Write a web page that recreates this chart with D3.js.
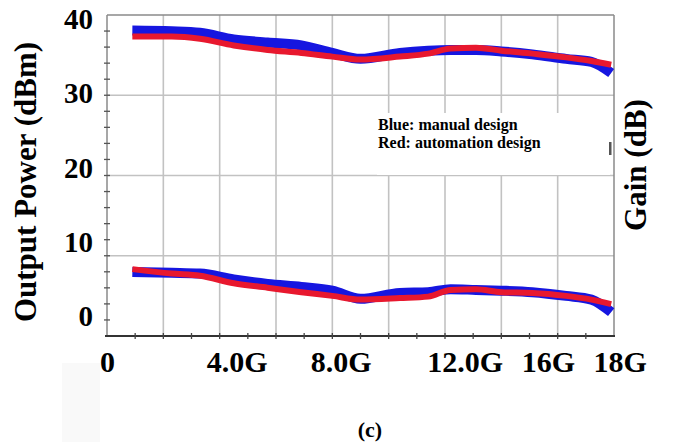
<!DOCTYPE html>
<html>
<head>
<meta charset="utf-8">
<script src="https://cdn.jsdelivr.net/npm/d3@7"></script>
<style>
  body { margin: 0; background: #fff; }
  svg { display: block; }
  text { font-family: "Liberation Serif", "Times New Roman", serif; font-weight: bold; fill: #000; }
</style>
</head>
<body>
<svg id="chart" width="673" height="442"></svg>
<script>
// Frequency sweep points (GHz)
const freqGHz = [0.9, 2.3, 3.3, 4.5, 5.7, 6.9, 8.0, 9.0, 10.4, 11.4, 12.2, 13.1, 14.0, 15.1, 16.3, 17.2, 17.9];
// Output power (dBm)
const powerManual = [38.4, 38.3, 38.1, 37.2, 36.8, 36.4, 35.4, 34.6, 35.4, 35.7, 35.8, 35.8, 35.6, 35.2, 34.6, 34.2, 32.7];
const powerAuto   = [37.6, 37.6, 37.3, 36.4, 35.8, 35.4, 34.9, 34.5, 34.9, 35.3, 36.0, 36.1, 35.7, 35.3, 34.8, 34.3, 33.8];
// Gain (dB)
const gainManual  = [5.9, 5.8, 5.7, 4.9, 4.3, 3.9, 3.4, 2.3, 3.1, 3.2, 3.6, 3.5, 3.4, 3.2, 2.7, 2.2, 0.5];
const gainAuto    = [6.3, 5.7, 5.4, 4.4, 3.8, 3.2, 2.7, 2.2, 2.4, 2.6, 3.5, 3.6, 3.2, 3.1, 2.7, 2.2, 1.6];

// Axis labels
const xTickValues = [0, 4.6, 8.3, 12.7, 15.65, 18.2];
const xTickLabels = ["0", "4.0G", "8.0G", "12.0G", "16G", "18G"];
const yTickValues = [0, 10, 20, 30, 40];
const legendLines = ["Blue: manual design", "Red: automation design"];

const svg = d3.select("#chart");
const L = 107, R = 614, T = 15, B = 336;

const x = d3.scaleLinear().domain([0, 18]).range([L, R]);
const y = d3.scaleLinear().domain([-2.7, 40.5]).range([B, T]);
// the plot frame is ruled in 4 rows with 5 minor ticks each
const grid = d3.scaleLinear().domain([0, 20]).range([B, T]);

// faint patch under the axis
svg.append("rect").attr("x", 62).attr("y", 363).attr("width", 38).attr("height", 79).attr("fill", "#f9f9f9");

// grid
const g = svg.append("g");
g.selectAll(".vg").data(d3.range(2, 18, 2)).join("line")
  .attr("x1", d => x(d)).attr("x2", d => x(d)).attr("y1", T).attr("y2", B)
  .attr("stroke", "#c2c2c2").attr("stroke-width", 1.6);
g.selectAll(".hg").data([5, 10, 15]).join("line")
  .attr("x1", L).attr("x2", R).attr("y1", d => grid(d)).attr("y2", d => grid(d))
  .attr("stroke", "#c2c2c2").attr("stroke-width", 1.6);

// frame
g.append("line").attr("x1", L).attr("x2", R).attr("y1", T).attr("y2", T).attr("stroke", "#8a8a8a").attr("stroke-width", 1.5);
g.append("line").attr("x1", R).attr("x2", R).attr("y1", T).attr("y2", B).attr("stroke", "#8a8a8a").attr("stroke-width", 1.5);
g.append("line").attr("x1", L).attr("x2", L).attr("y1", T).attr("y2", B).attr("stroke", "#8a8a8a").attr("stroke-width", 1.5);
g.append("line").attr("x1", L - 2).attr("x2", R + 1).attr("y1", B).attr("y2", B).attr("stroke", "#333").attr("stroke-width", 2);

// minor ticks
g.selectAll(".lt").data(d3.range(1, 20)).join("line")
  .attr("x1", L - 3).attr("x2", L + 3).attr("y1", d => grid(d)).attr("y2", d => grid(d))
  .attr("stroke", "#555").attr("stroke-width", 1.3);
g.selectAll(".bt").data(d3.range(1, 18)).join("line")
  .attr("x1", d => x(d)).attr("x2", d => x(d)).attr("y1", B - 3).attr("y2", B + 3)
  .attr("stroke", "#444").attr("stroke-width", 1.3);

// legend box
svg.append("rect").attr("x", 377).attr("y", 113).attr("width", 233).attr("height", 62).attr("fill", "#fff");
svg.append("rect").attr("x", 609).attr("y", 142).attr("width", 2.5).attr("height", 13).attr("fill", "#555");
svg.selectAll(".leg").data(legendLines).join("text")
  .attr("x", 378).attr("y", (d, i) => 130 + i * 18)
  .style("font-size", "16px").text(d => d);

// curves
const line = d3.line().x(d => x(d[0])).y(d => y(d[1])).curve(d3.curveMonotoneX);
const series = [
  { vals: powerManual, color: "#1616e0", w: 10 },
  { vals: gainManual,  color: "#1616e0", w: 10 },
  { vals: powerAuto,   color: "#e8182e", w: 6 },
  { vals: gainAuto,    color: "#e8182e", w: 6 }
];
svg.selectAll(".curve").data(series).join("path")
  .attr("d", s => line(freqGHz.map((f, i) => [f, s.vals[i]])))
  .attr("fill", "none").attr("stroke", s => s.color).attr("stroke-width", s => s.w)
  .attr("stroke-linejoin", "round");

// axes
const xAxis = svg.append("g").attr("transform", `translate(0,${B})`)
  .call(d3.axisBottom(x).tickValues(xTickValues).tickFormat((d, i) => xTickLabels[i]).tickSize(0));
xAxis.select(".domain").remove();
xAxis.selectAll("text").attr("y", 36).attr("dy", 0).style("font-size", "30px")
  .style("font-family", '"Liberation Serif", serif').style("font-weight", "bold").attr("fill", "#000");

const yAxis = svg.append("g").attr("transform", `translate(${L},0)`)
  .call(d3.axisLeft(y).tickValues(yTickValues).tickFormat(d3.format("d")).tickSize(0));
yAxis.select(".domain").remove();
yAxis.selectAll("text").attr("x", -14).attr("dy", "0.34em").style("font-size", "29px")
  .style("font-family", '"Liberation Serif", serif').style("font-weight", "bold").attr("fill", "#000");

// titles
svg.append("text").attr("transform", "translate(36,182) rotate(-90)")
  .attr("text-anchor", "middle").style("font-size", "31px").text("Output Power (dBm)");
svg.append("text").attr("transform", "translate(646,165) rotate(-90)")
  .attr("text-anchor", "middle").style("font-size", "31px").text("Gain (dB)");
svg.append("text").attr("x", 370).attr("y", 437)
  .attr("text-anchor", "middle").style("font-size", "22px").text("(c)");
</script>
</body>
</html>
